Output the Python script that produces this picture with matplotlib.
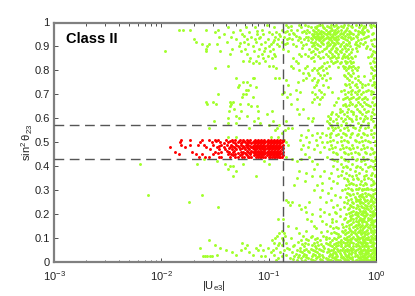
import numpy as np
import matplotlib
matplotlib.use("Agg")
import matplotlib.pyplot as plt

plt.rcParams['font.family'] = ['Liberation Sans', 'DejaVu Sans']
plt.rcParams['mathtext.default'] = 'regular'

# values: sin^2 theta_23 -> log10|Ue3|
green_top = {
    0.99: [-1.02, -.84, -.72, -.66, -.53, -.5, -.42, -.37, -.3, -.26, -.19, -.14, -.06, -.03],
    0.98: [-1.38, -1.21, -1.13, -.95, -.82, -.7, -.61, -.57, -.49, -.44, -.35, -.31, -.22, -.16, -.1, -.05],
    0.97: [-1.84, -1.8, -1.73, -1.58, -1.47, -1.27, -1.06, -.88, -.79, -.74, -.64, -.59, -.54, -.47, -.41, -.38, -.33, -.28, -.2, -.13, -.08],
    0.96: [-1.5, -1.33, -1.18, -1.0, -.93, -.85, -.69, -.62, -.56, -.52, -.49, -.45, -.39, -.36, -.3, -.24, -.15, -.11],
    0.95: [-1.42, -1.25, -1.11, -1.05, -.97, -.9, -.81, -.76, -.6, -.55, -.51, -.47, -.43, -.4, -.34, -.27, -.21, -.17, -.12, -.04],
    0.94: [-1.46, -1.35, -1.16, -1.08, -.94, -.86, -.72, -.63, -.58, -.53, -.5, -.46, -.42, -.37, -.32, -.26, -.18, -.09],
    0.93: [-1.7, -1.3, -1.2, -1.13, -1.01, -.91, -.83, -.78, -.67, -.6, -.56, -.52, -.48, -.44, -.39, -.35, -.29, -.23, -.14, -.02],
    0.92: [-1.68, -1.39, -1.23, -1.12, -1.03, -.96, -.88, -.7, -.61, -.57, -.51, -.45, -.41, -.36, -.31, -.25, -.19, -.1],
    0.91: [-1.62, -1.56, -1.48, -1.19, -1.07, -.98, -.92, -.85, -.77, -.65, -.55, -.49, -.43, -.38, -.33, -.28, -.2, -.12, -.04],
    0.90: [-1.57, -1.28, -1.15, -1.0, -.9, -.75, -.6, -.52, -.46, -.4, -.34, -.3, -.24, -.16, -.08, -.02],
    0.89: [-1.58, -1.34, -1.22, -1.09, -.96, -.87, -.62, -.55, -.48, -.42, -.36, -.32, -.26, -.22, -.06],
    0.88: [-1.97, -1.58, -1.45, -1.26, -1.14, -1.04, -.99, -.82, -.59, -.5, -.44, -.38, -.34, -.28, -.18, -.03],
    0.87: [-1.36, -1.2, -1.06, -.95, -.72, -.66, -.57, -.47, -.41, -.35, -.3, -.25, -.04],
    0.86: [-1.1, -1.01, -.94, -.7, -.63, -.54, -.45, -.39, -.31, -.27, -.2, -.05],
    0.85: [-1.17, -1.05, -.97, -.77, -.61, -.52, -.43, -.37, -.32, -.26, -.22, -.02],
    0.84: [-1.24, -1.18, -1.12, -1.03, -.75, -.58, -.42, -.36, -.29, -.24, -.03],
    0.83: [-1.15, -1.09, -.73, -.48, -.4, -.34, -.28, -.23, -.06],
    0.82: [-1.38, -1.0, -.96, -.79, -.64, -.5, -.44, -.31, -.25, -.21, -.01],
    0.81: [-1.5, -.93, -.77, -.66, -.58, -.53, -.47, -.3, -.26, -.2, -.04],
    0.80: [-.72, -.6, -.55, -.49, -.28, -.22, -.18, -.02],
    0.79: [-.68, -.63, -.54, -.46, -.26, -.21, -.05],
    0.78: [-.62, -.52, -.48, -.3, -.24, -.01],
    0.77: [-1.3, -1.15, -1.14, -.94, -.9, -.65, -.58, -.5, -.43, -.27, -.2, -.03],
    0.76: [-.84, -.68, -.6, -.54, -.47, -.25, -.17, -.06],
    0.75: [-1.24, -1.2, -.73, -.55, -.22, -.15, -.02],
    0.74: [-1.28, -1.17, -.82, -.56, -.49, -.28, -.2, -.1, -.04],
    0.73: [-1.29, -1.12, -.58, -.45, -.24, -.18, -.13, -.01],
    0.72: [-1.21, -1.19, -.75, -.53, -.3, -.22, -.16, -.07],
    0.71: [-.86, -.71, -.6, -.51, -.41, -.26, -.2, -.12, -.03],
    0.70: [-1.47, -1.24, -1.21, -.88, -.8, -.57, -.48, -.29, -.23, -.18, -.14, -.05],
    0.69: [-1.25, -1.15, -.83, -.55, -.5, -.27, -.21, -.16, -.1, -.02],
    0.68: [-.74, -.58, -.52, -.31, -.25, -.19, -.13, -.08],
    0.67: [-1.58, -1.52, -1.36, -1.33, -.6, -.37, -.24, -.17, -.11, -.04],
    0.66: [-1.57, -1.49, -1.35, -1.27, -1.19, -.79, -.53, -.29, -.22, -.15, -.09, -.01],
    0.65: [-1.36, -1.16, -1.11, -.28, -.2, -.13, -.06],
    0.64: [-1.32, -.74, -.68, -.34, -.26, -.18, -.11, -.03],
    0.63: [-1.37, -1.26, -1.1, -.97, -.32, -.23, -.16, -.07],
    0.62: [-1.02, -.72, -.42, -.37, -.3, -.21, -.13, -.02],
    0.61: [-1.3, -1.2, -.45, -.35, -.27, -.19, -.1, -.05],
    0.60: [-1.38, -1.28, -1.1, -.63, -.59, -.43, -.33, -.25, -.15, -.08],
    0.59: [-1.51, -1.14, -.96, -.84, -.6, -.46, -.4, -.31, -.22, -.12, -.03],
    0.58: [-1.38, -1.3, -1.08, -.44, -.36, -.28, -.17, -.07],
    0.57: [-1.0, -.9, -.42, -.33, -.24, -.14, -.01],
    0.56: [-1.56, -1.18, -.92, -.82, -.78, -.45, -.38, -.3, -.2, -.1],
    0.55: [-.94, -.85, -.63, -.4, -.34, -.26, -.16, -.05],
    0.54: [-.88, -.55, -.5, -.42, -.31, -.22, -.12, -.02],
    0.53: [-.7, -.6, -.47, -.37, -.28, -.18, -.08],
    0.52: [-1.38, -1.3, -.98, -.91, -.65, -.52, -.43, -.33, -.24, -.14, -.03],
    0.51: [-.86, -.71, -.56, -.4, -.3, -.2, -.1],
    0.50: [-.84, -.62, -.5, -.46, -.36, -.26, -.16, -.06],
    0.49: [-.82, -.68, -.55, -.42, -.32, -.22, -.12, -.01],
    0.48: [-.63, -.48, -.38, -.28, -.18, -.08],
    0.47: [-.7, -.58, -.44, -.34, -.24, -.14, -.04],
    0.46: [-.52, -.4, -.3, -.2, -.1, -.02],
    0.45: [-.66, -.36, -.26, -.16, -.06],
    0.44: [-.84, -.62, -.46, -.33, -.22, -.12, -.01],
}
green_bottom = {
    0.43: [-1.6, -.78, -.7, -.41, -.3, -.18, -.08],
    0.42: [-1.48, -1.04, -.74, -.6, -.36, -.26, -.14, -.03],
    0.41: [-2.2, -1.67, -1.41, -1.24, -1.0, -.55, -.33, -.22, -.1, -.01],
    0.40: [-1.36, -1.33, -.4, -.28, -.18, -.06],
    0.39: [-1.38, -.58, -.36, -.24, -.13, -.02],
    0.38: [-1.3, -.72, -.48, -.32, -.2, -.09],
    0.37: [-.65, -.42, -.28, -.16, -.04],
    0.36: [-1.33, -1.12, -.6, -.52, -.35, -.22, -.11, -.01],
    0.35: [-.74, -.44, -.3, -.18, -.07],
    0.34: [-.66, -.4, -.26, -.14, -.03],
    0.33: [-.5, -.36, -.23, -.1, -.02],
    0.32: [-.76, -.55, -.28, -.19, -.12, -.05],
    0.31: [-.42, -.26, -.16, -.08],
    0.30: [-.58, -.5, -.32, -.22, -.13, -.03],
    0.29: [-.45, -.27, -.18, -.1, -.01],
    0.28: [-2.12, -1.62, -.38, -.24, -.15, -.06],
    0.27: [-.52, -.34, -.28, -.2, -.12, -.03],
    0.26: [-.84, -.42, -.26, -.17, -.08],
    0.25: [-1.74, -.82, -.78, -.62, -.47, -.3, -.22, -.14, -.02],
    0.24: [-.8, -.72, -.36, -.24, -.18, -.1, -.05],
    0.23: [-1.47, -.66, -.4, -.3, -.21, -.13],
    0.22: [-.7, -.52, -.34, -.26, -.16, -.07, -.01],
    0.21: [-.65, -.48, -.38, -.23, -.19, -.11, -.04],
    0.20: [-.6, -.44, -.28, -.2, -.14, -.08],
    0.19: [-.52, -.34, -.24, -.17, -.1, -.03],
    0.18: [-.91, -.87, -.64, -.41, -.3, -.21, -.13, -.06],
    0.17: [-.61, -.5, -.37, -.26, -.19, -.11, -.02],
    0.16: [-.47, -.32, -.23, -.16, -.08, -.04],
    0.15: [-.82, -.58, -.43, -.28, -.2, -.14, -.1, -.01],
    0.14: [-.75, -.56, -.4, -.35, -.25, -.18, -.12, -.06],
    0.13: [-.88, -.65, -.46, -.32, -.23, -.16, -.09, -.03],
    0.12: [-.9, -.86, -.72, -.42, -.37, -.28, -.2, -.13, -.07],
    0.11: [-.92, -.85, -.68, -.6, -.49, -.34, -.25, -.18, -.11, -.05, -.01],
    0.10: [-.94, -.88, -.79, -.55, -.44, -.39, -.3, -.22, -.15, -.09, -.03],
    0.09: [-1.56, -.97, -.87, -.7, -.63, -.52, -.41, -.33, -.26, -.19, -.12, -.06],
    0.08: [-1.25, -.95, -.9, -.84, -.66, -.58, -.47, -.37, -.29, -.21, -.14, -.08, -.02],
    0.07: [-1.5, -1.2, -1.08, -.91, -.88, -.76, -.6, -.54, -.43, -.35, -.27, -.17, -.1, -.04],
    0.06: [-1.64, -1.45, -1.22, -1.12, -1.01, -.93, -.83, -.71, -.56, -.48, -.39, -.31, -.23, -.15, -.07, -.01],
    0.05: [-1.4, -1.26, -1.1, -1.05, -.96, -.86, -.74, -.67, -.59, -.51, -.42, -.34, -.25, -.19, -.12, -.05],
    0.04: [-1.34, -1.18, -.98, -.89, -.78, -.69, -.62, -.55, -.46, -.38, -.3, -.22, -.16, -.09, -.03],
    0.03: [-1.48, -1.3, -1.15, -.95, -.84, -.72, -.65, -.57, -.5, -.41, -.33, -.26, -.18, -.11, -.06, -.02],
    0.025: [-1.61, -1.59, -1.57, -1.55, -1.53, -1.07, -1.03, -.88, -.76, -.68, -.6, -.53, -.44, -.36, -.28, -.2, -.13, -.07],
    0.015: [-.91, -.8, -.7, -.63, -.56, -.47, -.39, -.31, -.24, -.16, -.1, -.04],
    0.007: [-.93, -.74, -.66, -.59, -.5, -.42, -.34, -.27, -.19, -.12, -.06, -.01],
}
# points in the crowded parts of the cloud, between the rows above
green_dense = {
    0.985: [-.79, -.63, -.55, -.46, -.39, -.33, -.23, -.11, -.01],
    0.965: [-1.11, -.83, -.67, -.58, -.51, -.43, -.35, -.29, -.25, -.17, -.07],
    0.955: [-.77, -.65, -.53, -.48, -.44, -.37, -.33, -.23, -.13, -.03],
    0.945: [-1.23, -.89, -.75, -.59, -.55, -.49, -.41, -.35, -.29, -.19, -.07],
    0.935: [-1.09, -.81, -.71, -.61, -.54, -.47, -.43, -.38, -.31, -.21, -.11],
    0.925: [-.95, -.73, -.63, -.53, -.49, -.42, -.37, -.27, -.17, -.05],
    0.915: [-1.27, -.83, -.59, -.5, -.46, -.39, -.35, -.25, -.15],
    0.895: [-1.03, -.69, -.57, -.47, -.41, -.37, -.29, -.19, -.09],
    0.875: [-.61, -.53, -.43, -.37, -.33, -.23, -.01],
    0.855: [-.59, -.49, -.41, -.35, -.29, -.23, -.07],
    0.835: [-.46, -.38, -.33, -.27, -.21, -.02],
    0.815: [-.51, -.35, -.29, -.23, -.17, -.05],
    0.775: [-.29, -.23, -.17, -.11, -.03],
    0.745: [-.29, -.25, -.19, -.13, -.07, -.02],
    0.715: [-.33, -.23, -.17, -.09, -.05],
    0.685: [-.35, -.29, -.23, -.17, -.11, -.03],
    0.655: [-.39, -.31, -.25, -.19, -.07, -.02],
    0.625: [-.41, -.34, -.27, -.21, -.15, -.09, -.04],
    0.595: [-.43, -.37, -.29, -.23, -.19, -.11, -.05],
    0.565: [-.41, -.35, -.27, -.21, -.15, -.07, -.02],
    0.535: [-.43, -.35, -.29, -.23, -.17, -.11, -.05],
    0.505: [-.43, -.33, -.27, -.19, -.13, -.07, -.01],
    0.475: [-.41, -.31, -.25, -.21, -.11, -.05],
    0.455: [-.37, -.29, -.23, -.17, -.09, -.03],
    0.425: [-.39, -.29, -.19, -.11, -.05, -.01],
    0.395: [-.31, -.27, -.19, -.15, -.07, -.03],
    0.365: [-.33, -.25, -.19, -.09, -.05, -.01],
    0.345: [-.27, -.21, -.17, -.11, -.05],
    0.325: [-.25, -.21, -.15, -.09, -.03],
    0.305: [-.29, -.23, -.19, -.11, -.05, -.01],
    0.285: [-.25, -.21, -.13, -.07, -.03],
    0.265: [-.23, -.19, -.15, -.11, -.05, -.01],
    0.245: [-.27, -.21, -.15, -.12, -.07, -.03],
    0.225: [-.25, -.19, -.11, -.09, -.05],
    0.205: [-.37, -.25, -.17, -.13, -.09, -.03, -.01],
    0.185: [-.29, -.23, -.19, -.15, -.11, -.07, -.05],
    0.165: [-.41, -.27, -.21, -.17, -.13, -.09, -.05, -.03],
    0.145: [-.37, -.31, -.21, -.15, -.11, -.07, -.03],
    0.125: [-.51, -.39, -.31, -.26, -.21, -.17, -.15, -.11, -.05, -.02],
    0.105: [-.61, -.47, -.35, -.27, -.21, -.17, -.13, -.07, -.04],
    0.095: [-.65, -.57, -.47, -.37, -.29, -.23, -.16, -.1, -.07, -.03],
    0.085: [-.73, -.55, -.43, -.35, -.31, -.24, -.17, -.11, -.05],
    0.075: [-.69, -.63, -.51, -.45, -.39, -.33, -.25, -.19, -.13, -.09, -.03],
    0.065: [-.77, -.67, -.57, -.49, -.41, -.37, -.29, -.21, -.13, -.09, -.05],
    0.055: [-.81, -.65, -.61, -.53, -.45, -.36, -.27, -.21, -.17, -.11, -.03],
    0.045: [-.71, -.63, -.57, -.49, -.44, -.35, -.27, -.2, -.14, -.07, -.02],
    0.035: [-.75, -.67, -.59, -.53, -.43, -.37, -.29, -.23, -.15, -.09, -.05],
    0.020: [-.73, -.65, -.55, -.49, -.41, -.33, -.25, -.17, -.12, -.08, -.03],
    0.012: [-.77, -.61, -.52, -.45, -.37, -.29, -.22, -.14, -.09, -.02],
    0.003: [-.69, -.57, -.46, -.38, -.3, -.21, -.15, -.08, -.03],
}
# the thickest part, bottom right corner and the top band
green_thick = {
    0.975: [-.56, -.48, -.42, -.36, -.27, -.12],
    0.952: [-.58, -.54, -.46, -.38, -.31, -.25],
    0.938: [-.65, -.57, -.51, -.45, -.4, -.33, -.24],
    0.908: [-.68, -.58, -.54, -.44, -.39, -.27, -.18],
    0.305: [-.17, -.13, -.09, -.07],
    0.275: [-.16, -.14, -.09, -.05],
    0.255: [-.19, -.16, -.1, -.06, -.04],
    0.235: [-.23, -.17, -.14, -.08, -.06, -.02],
    0.215: [-.21, -.15, -.12, -.1, -.06, -.03],
    0.195: [-.22, -.18, -.12, -.09, -.06, -.04, -.02],
    0.175: [-.24, -.16, -.14, -.12, -.07, -.04, -.01],
    0.155: [-.25, -.19, -.17, -.13, -.09, -.06, -.03],
    0.135: [-.29, -.24, -.2, -.15, -.13, -.08, -.05, -.02],
    0.115: [-.35, -.29, -.23, -.19, -.14, -.1, -.08, -.03],
    0.098: [-.28, -.24, -.2, -.18, -.12, -.08, -.05, -.01],
    0.082: [-.34, -.27, -.23, -.15, -.12, -.1, -.06, -.03],
    0.068: [-.33, -.25, -.19, -.16, -.11, -.07, -.03],
    0.052: [-.4, -.32, -.29, -.23, -.14, -.1, -.08, -.06, -.02],
    0.038: [-.4, -.34, -.25, -.2, -.13, -.1, -.07, -.04, -.01],
    0.022: [-.38, -.31, -.27, -.22, -.15, -.1, -.05, -.02],
    0.010: [-.43, -.35, -.26, -.18, -.11, -.07, -.04],
}
red_rows = {
    0.51: [-1.82, -1.73, -1.62, -1.56, -1.5, -1.47, -1.4, -1.34, -1.31, -1.27, -1.24, -1.2, -1.17, -1.13, -1.1, -1.07, -1.04, -1.01, -.98, -.95, -.92, -.89, -.87],
    0.50: [-1.83, -1.64, -1.53, -1.45, -1.38, -1.33, -1.29, -1.25, -1.22, -1.18, -1.15, -1.12, -1.09, -1.06, -1.03, -1.0, -.97, -.94, -.91, -.88],
    0.49: [-1.82, -1.73, -1.66, -1.6, -1.52, -1.44, -1.39, -1.35, -1.3, -1.26, -1.21, -1.19, -1.14, -1.11, -1.08, -1.05, -1.02, -.99, -.96, -.93, -.9, -.87],
    0.48: [-1.92, -1.78, -1.58, -1.48, -1.42, -1.36, -1.32, -1.28, -1.23, -1.2, -1.16, -1.13, -1.1, -1.07, -1.04, -1.01, -.98, -.95, -.92, -.89],
    0.47: [-1.55, -1.46, -1.41, -1.34, -1.3, -1.27, -1.22, -1.18, -1.14, -1.12, -1.08, -1.05, -1.03, -1.0, -.97, -.94, -.91, -.88],
    0.46: [-1.87, -1.71, -1.5, -1.44, -1.37, -1.33, -1.26, -1.24, -1.19, -1.15, -1.11, -1.09, -1.06, -1.02, -.99, -.96, -.93, -.9, -.87],
    0.45: [-1.84, -1.68, -1.62, -1.52, -1.38, -1.35, -1.31, -1.25, -1.21, -1.17, -1.13, -1.1, -1.07, -1.04, -1.01, -.98, -.95, -.92, -.89],
    0.44: [-1.65, -1.59, -1.56, -1.46, -1.36, -1.29, -1.23, -1.19, -1.16, -1.12, -1.08, -1.05, -1.0, -.97, -.94, -.9, -.88],
}
red_dense = {
    0.505: [-1.49, -1.36, -1.28, -1.23, -1.19, -1.14, -1.11, -1.08, -1.05, -1.02, -.99, -.96, -.93, -.9, -.87],
    0.495: [-1.42, -1.31, -1.26, -1.2, -1.16, -1.13, -1.1, -1.07, -1.04, -1.01, -.98, -.95, -.92, -.89],
    0.485: [-1.46, -1.34, -1.29, -1.24, -1.17, -1.15, -1.12, -1.09, -1.06, -1.03, -1.0, -.97, -.94, -.91, -.88],
    0.475: [-1.37, -1.31, -1.25, -1.19, -1.15, -1.11, -1.09, -1.06, -1.02, -.99, -.96, -.93, -.9, -.87],
    0.465: [-1.39, -1.32, -1.2, -1.16, -1.13, -1.1, -1.07, -1.04, -1.01, -.98, -.95, -.92, -.89],
    0.455: [-1.47, -1.29, -1.22, -1.17, -1.13, -1.08, -1.05, -1.03, -1.0, -.97, -.94, -.91, -.88],
    0.445: [-1.33, -1.27, -1.2, -1.14, -1.11, -1.09, -1.06, -1.02, -.99, -.96, -.93, -.91, -.87],
    0.437: [-1.44, -1.31, -1.25, -1.18, -1.1, -1.07, -1.03, -.99, -.95, -.92, -.89],
}
limit_ue3 = 0.135
limits_s23 = [0.43, 0.57]
xticks = [1e-3, 1e-2, 1e-1, 1]
yticks = [0, 0.1, 0.2, 0.3, 0.4, 0.5, 0.6, 0.7, 0.8, 0.9, 1]
yticklabels = ['0', '0.1', '0.2', '0.3', '0.4', '0.5', '0.6', '0.7', '0.8', '0.9', '1']


def flatten(*tables):
    xs, ys = [], []
    for rows in tables:
        for y, logs in rows.items():
            for lx in logs:
                xs.append(10 ** lx)
                ys.append(y)
    return xs, ys


fig = plt.figure(figsize=(4.15, 2.96), dpi=100)
ax = fig.add_axes([54 / 415, 34 / 296, 322 / 415, 239.5 / 296])
ax.set_xscale('log')

gx, gy = flatten(green_top, green_bottom, green_dense, green_thick)
rx, ry = flatten(red_rows, red_dense)
ax.scatter(gx, gy, s=4.5, c='#a2ff2c', linewidths=0, clip_on=False, zorder=2)
ax.scatter(rx, ry, s=4.5, c='#ff0000', linewidths=0, zorder=3)

# limits
for y in limits_s23:
    ax.axhline(y, color='#555555', lw=1, dashes=(7, 4), zorder=4)
ax.axvline(limit_ue3, color='#555555', lw=1, dashes=(7, 4), zorder=4)

ax.set_xlim(1e-3, 1)
ax.set_ylim(0, 1)
ax.set_xticks(xticks)
ax.set_yticks(yticks)
ax.set_yticklabels(yticklabels)
ax.tick_params(which='major', direction='in', length=3, width=0.6, color='#333333',
               labelsize=8, labelcolor='#222222', top=True, right=True, pad=3)
ax.tick_params(axis='x', which='major', pad=5)
ax.tick_params(which='minor', direction='in', length=1.8, width=0.6, color='#333333', top=True)
for name in ['left', 'top', 'bottom']:
    ax.spines[name].set_color('#808080')
    ax.spines[name].set_linewidth(1.6)
ax.spines['right'].set_color('#333333')
ax.spines['right'].set_linewidth(0.7)

fig.text(66 / 415, 1 - 39 / 296, 'Class II', fontsize=10.5, fontweight='bold', va='center', color='black')
fig.text(214 / 415, 1 - 286 / 296, r'$|U_{e3}|$', fontsize=8, ha='center', va='center', color='#222222')
fig.text(27 / 415, 1 - 142 / 296, r'$sin^2\,\theta_{23}$', fontsize=8, rotation=90,
         ha='center', va='center', color='#222222')

fig.savefig('out.png', dpi=100)
